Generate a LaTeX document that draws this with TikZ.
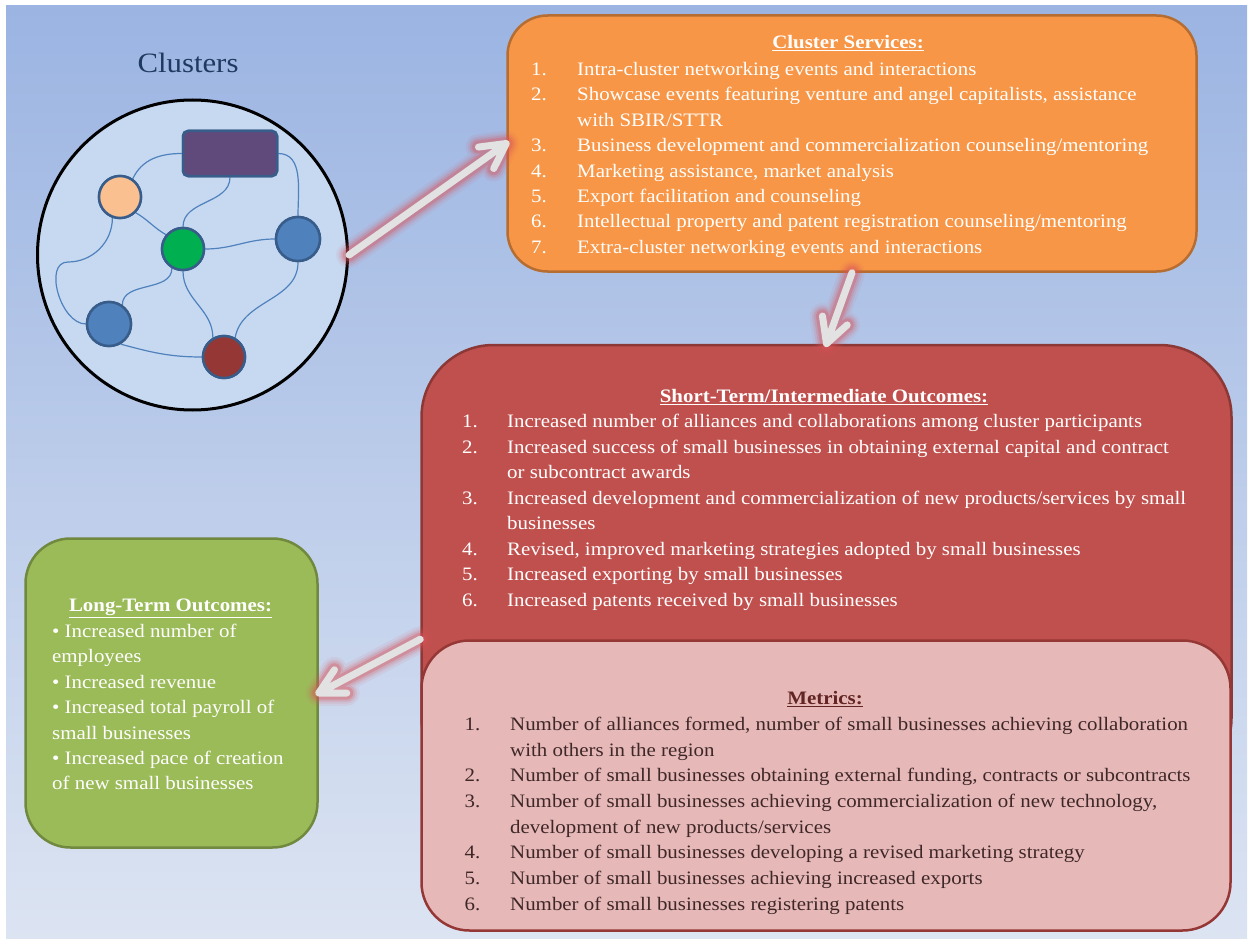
\documentclass[tikz,border=0pt]{standalone}
\usepackage{fontspec}
\setmainfont{Liberation Serif}[FakeStretch=1.1]
\usetikzlibrary{calc}
\definecolor{bgtop}{HTML}{9BB4E2}
\definecolor{bgbot}{HTML}{DCE4F2}
\definecolor{circfill}{HTML}{C6D9F1}
\definecolor{netline}{HTML}{4F81BD}
\definecolor{netborder}{HTML}{385D8A}
\definecolor{purplefill}{HTML}{604A7B}
\definecolor{peachfill}{HTML}{FAC090}
\definecolor{greenfill}{HTML}{00B050}
\definecolor{bluefill}{HTML}{4F81BD}
\definecolor{redfill}{HTML}{953735}
\definecolor{orangefill}{HTML}{F79646}
\definecolor{orangeborder}{HTML}{B66D31}
\definecolor{shortfill}{HTML}{C0504D}
\definecolor{shortborder}{HTML}{8C3836}
\definecolor{metfill}{HTML}{E6B9B8}
\definecolor{metborder}{HTML}{953735}
\definecolor{mettext}{HTML}{3F2728}
\definecolor{mettitle}{HTML}{632523}
\definecolor{ltfill}{HTML}{9BBB59}
\definecolor{ltborder}{HTML}{71893F}
\definecolor{titleblue}{HTML}{1F3A60}
\definecolor{glowred}{HTML}{D9545A}
\definecolor{arrowgray}{HTML}{E2E2E2}
\newlength\numw
\newcommand\ii[1]{\makebox[\numw][l]{#1}}
\newcommand\cc{\hspace*{\numw}}
\newcommand\glowarrow[2]{%
  \foreach \w/\o in {26/0.08,21/0.12,17/0.18,13/0.3}{%
    \draw[line width=\w pt, draw=glowred, opacity=\o, line cap=round, line join=round]
      (#1) -- (#2) ($(#2)!28pt!28:(#1)$) -- (#2) -- ($(#2)!28pt!-28:(#1)$);}
  \draw[arrowbody] (#1) -- (#2) ($(#2)!28pt!28:(#1)$) -- (#2) -- ($(#2)!28pt!-28:(#1)$);}
\tikzset{
  arrowbody/.style={line width=7pt, draw=arrowgray, line cap=round, line join=round},
  netnode/.style={circle, draw=netborder, line width=2.5pt, minimum size=42pt, inner sep=0},
  netedge/.style={draw=netline, line width=1.2pt},
  bigbox/.style={rectangle, line width=2.5pt, inner sep=0},
  listnode/.style={anchor=north west, inner sep=0, align=left},
  boxtitle/.style={anchor=base, inner sep=0, font=\fontsize{19}{25.4}\selectfont\bfseries},
  prectstyle/.style={rectangle, rounded corners=5pt, draw=netborder, line width=2.5pt, fill=purplefill, minimum width=94pt, minimum height=45pt, inner sep=0},
}
\begin{document}
\begin{tikzpicture}[x=1pt,y=-1pt]
\useasboundingbox (0,0) rectangle (1253,939);
\fill[white] (0,0) rectangle (1253,939);
\shade[top color=bgtop, bottom color=bgbot] (6,6) rectangle (1247,939);

% Clusters
\node[text=titleblue, font=\fontsize{28}{32}\selectfont, inner sep=0] (clusterstitle) at (188,63) {Clusters};
\node[circle, draw=black, line width=3pt, fill=circfill, minimum size=310pt, inner sep=0] (circ) at (192.5,255) {};
\coordinate (prect) at (230,153.5);
\coordinate (peach) at (120,197);
\coordinate (green) at (183,249);
\coordinate (blueR) at (298,239);
\coordinate (blueL) at (109,324);
\coordinate (redn) at (224,357);
\node[prectstyle] (prectn) at (prect) {};
\node[netnode] (peachn) at (peach) {};
\node[netnode] (greenn) at (green) {};
\node[netnode, minimum size=44pt] (blueRn) at (blueR) {};
\node[netnode, minimum size=44pt] (blueLn) at (blueL) {};
\node[netnode] (rednn) at (redn) {};
\draw[netedge] (prectn.west) to[out=180,in=65] (peachn.55);
\draw[netedge] (prectn.south) to[out=-90,in=90] (greenn.north);
\draw[netedge] (prectn.east) to[out=0,in=90] (blueRn.north);
\draw[netedge] (peachn.-45) to[out=-30,in=150] (greenn.140);
\draw[netedge] (peachn.-110) to[out=-90,in=0] (68,262) to[out=180,in=180] (blueLn.west);
\draw[netedge] (greenn.east) to[out=0,in=180] (blueRn.west);
\draw[netedge] (greenn.-120) to[out=-90,in=90] (blueLn.55);
\draw[netedge] (greenn.south) to[out=-90,in=90] (rednn.120);
\draw[netedge] (blueRn.south) to[out=-90,in=80] (rednn.60);
\draw[netedge] (blueLn.-60) to[out=-15,in=180] (rednn.west);
\node[prectstyle] at (prect) {};
\node[netnode, fill=peachfill] at (peach) {};
\node[netnode, fill=greenfill] at (green) {};
\node[netnode, fill=bluefill, minimum size=44pt] at (blueR) {};
\node[netnode, fill=bluefill, minimum size=44pt] at (blueL) {};
\node[netnode, fill=redfill] at (redn) {};

% Boxes
\node[bigbox, rounded corners=40pt, fill=orangefill, draw=orangeborder, minimum width=689pt, minimum height=256pt] (services) at (852,143.5) {};
\node[bigbox, rounded corners=72pt, fill=shortfill, draw=shortborder, minimum width=810pt, minimum height=445pt] (shortbox) at (826.5,567.5) {};
\node[bigbox, rounded corners=48pt, fill=metfill, draw=metborder, minimum width=809pt, minimum height=290pt] (metrics) at (826,785.5) {};
\node[bigbox, rounded corners=45pt, fill=ltfill, draw=ltborder, minimum width=292pt, minimum height=309pt] (longterm) at (171.5,693) {};

% Cluster services text
\node[boxtitle, text=white] (servtitle) at (848,49) {\underline{Cluster Services:}};
\node[listnode, text=white, font={\fontsize{19}{25.45}\selectfont\setlength\numw{46pt}}] (servlist) at (531,57.2) {%
\strut\ii{1.}Intra-cluster networking events and interactions\\
\ii{2.}Showcase events featuring venture and angel capitalists, assistance\\
\cc with SBIR/STTR\\
\ii{3.}Business development and commercialization counseling/mentoring\\
\ii{4.}Marketing assistance, market analysis\\
\ii{5.}Export facilitation and counseling\\
\ii{6.}Intellectual property and patent registration counseling/mentoring\\
\ii{7.}Extra-cluster networking events and interactions};

% Short-term text
\node[boxtitle, text=white] (shorttitle) at (824,402.5) {\underline{Short-Term/Intermediate Outcomes:}};
\node[listnode, text=white, font={\fontsize{19}{25.55}\selectfont\setlength\numw{45pt}}] (shortlist) at (462,409.5) {%
\strut\ii{1.}Increased number of alliances and collaborations among cluster participants\\
\ii{2.}Increased success of small businesses in obtaining external capital and contract\\
\cc or subcontract awards\\
\ii{3.}Increased development and commercialization of new products/services by small\\
\cc businesses\\
\ii{4.}Revised, improved marketing strategies adopted by small businesses\\
\ii{5.}Increased exporting by small businesses\\
\ii{6.}Increased patents received by small businesses};

% Metrics text
\node[boxtitle, text=mettitle] (mettitlenode) at (825,704.5) {\underline{Metrics:}};
\node[listnode, text=mettext, font={\fontsize{19}{25.7}\selectfont\setlength\numw{45.5pt}}] (metlist) at (464.5,712.2) {%
\strut\ii{1.}Number of alliances formed, number of small businesses achieving collaboration\\
\cc with others in the region\\
\ii{2.}Number of small businesses obtaining external funding, contracts or subcontracts\\
\ii{3.}Number of small businesses achieving commercialization of new technology,\\
\cc development of new products/services\\
\ii{4.}Number of small businesses developing a revised marketing strategy\\
\ii{5.}Number of small businesses achieving increased exports\\
\ii{6.}Number of small businesses registering patents};

% Long-term text
\node[boxtitle, text=white] (lttitle) at (170.5,611.5) {\underline{Long-Term Outcomes:}};
\node[listnode, text=white, font={\fontsize{19}{25.4}\selectfont}] (ltlist) at (52,619.5) {%
\strut• Increased number of\\
employees\\
• Increased revenue\\
• Increased total payroll of\\
small businesses\\
• Increased pace of creation\\
of new small businesses};

% Arrows
\coordinate (a3tail) at (shortbox.west |- metrics.north);
\glowarrow{circ.east}{services.west}
\glowarrow{services.south}{shortbox.north}
\glowarrow{a3tail}{longterm.east}
\end{tikzpicture}
\end{document}
